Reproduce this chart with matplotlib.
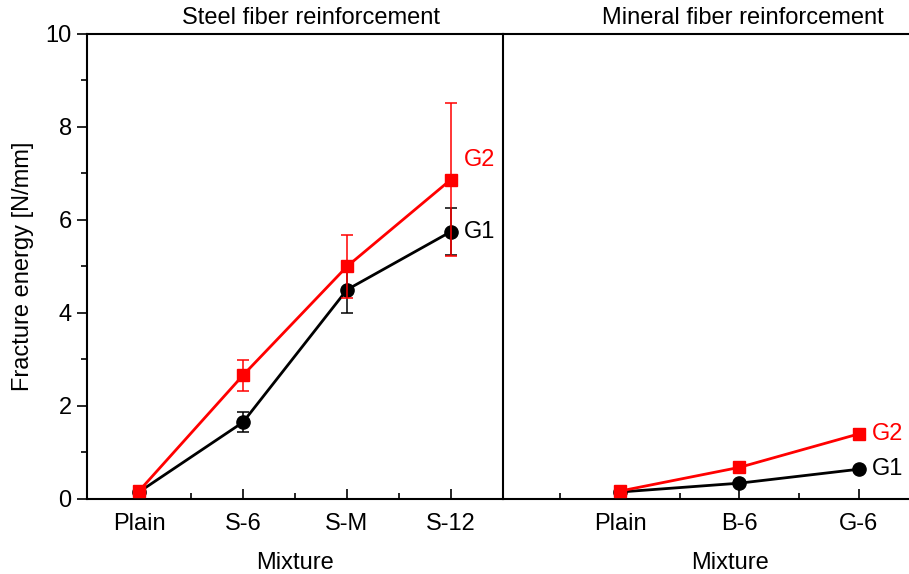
import matplotlib
matplotlib.use("Agg")
import matplotlib.pyplot as plt
from matplotlib.ticker import MultipleLocator, FixedLocator

plt.rcParams['font.family'] = ['Liberation Sans', 'DejaVu Sans']

# Steel fiber mixtures
steel_mix = ["Plain", "S-6", "S-M", "S-12"]
steel_g1 = [0.15, 1.65, 4.50, 5.75]
steel_g1_err = [0.03, 0.22, 0.50, 0.50]
steel_g2 = [0.17, 2.66, 5.00, 6.87]
steel_g2_err = [0.03, 0.33, 0.67, 1.65]

# Mineral fiber mixtures
mineral_mix = ["Plain", "B-6", "G-6"]
mineral_g1 = [0.15, 0.34, 0.64]
mineral_g1_err = [0.02, 0.03, 0.05]
mineral_g2 = [0.17, 0.68, 1.40]
mineral_g2_err = [0.02, 0.05, 0.10]

fig = plt.figure(figsize=(9.09, 5.74), dpi=100)
ax1 = fig.add_axes([0.0957, 0.1307, 0.4576, 0.8101])
ax2 = fig.add_axes([0.5534, 0.1307, 0.4466, 0.8101])

fs = 17
red = "#ff0000"

def draw(ax, mixes, g1, e1, g2, e2):
    x = list(range(len(mixes)))
    ax.errorbar(x, g1, yerr=e1, color="black", marker="o", markersize=9.5,
                lw=2.0, elinewidth=1.1, capsize=4, capthick=1.1, zorder=3)
    ax.errorbar(x, g2, yerr=e2, color=red, marker="s", markersize=8,
                lw=2.0, elinewidth=1.1, capsize=4, capthick=1.1, zorder=4)
    ax.set_xticks(x)
    ax.set_xticklabels(mixes, fontsize=fs)
    ax.xaxis.set_minor_locator(FixedLocator([i + 0.5 for i in range(-1, len(mixes))]))
    ax.tick_params(axis="x", which="major", direction="in", length=7, width=1.2, pad=10)
    ax.tick_params(axis="x", which="minor", direction="in", length=4, width=1.2)
    ax.set_ylim(0, 10)
    ax.set_xlabel("Mixture", fontsize=fs)
    for s in ax.spines.values():
        s.set_linewidth(1.5)

draw(ax1, steel_mix, steel_g1, steel_g1_err, steel_g2, steel_g2_err)
draw(ax2, mineral_mix, mineral_g1, mineral_g1_err, mineral_g2, mineral_g2_err)

ax1.set_xlim(-0.5, 3.5)
ax2.set_xlim(-0.98, 2.42)

ax1.yaxis.set_major_locator(MultipleLocator(2))
ax1.yaxis.set_minor_locator(MultipleLocator(1))
ax1.tick_params(axis="y", which="major", direction="out", length=7, width=1.2, labelsize=fs, pad=4)
ax1.tick_params(axis="y", which="minor", direction="out", length=4, width=1.2)
ax1.set_ylabel("Fracture energy [N/mm]", fontsize=fs, labelpad=8)
ax1.spines["right"].set_visible(False)

ax2.tick_params(axis="y", which="both", left=False, labelleft=False)
ax2.spines["right"].set_visible(False)

# Panel titles
ax1.text(1.65, 10.1, "Steel fiber reinforcement", fontsize=fs, ha="center", va="bottom")
ax2.text(1.03, 10.1, "Mineral fiber reinforcement", fontsize=fs, ha="center", va="bottom")

# Series labels
ax1.text(3.12, 7.3, "G2", color=red, fontsize=fs, ha="left", va="center")
ax1.text(3.12, steel_g1[-1], "G1", color="black", fontsize=fs, ha="left", va="center")
ax2.text(2.11, mineral_g2[-1], "G2", color=red, fontsize=fs, ha="left", va="center")
ax2.text(2.11, mineral_g1[-1], "G1", color="black", fontsize=fs, ha="left", va="center")

ax1.xaxis.set_label_coords(0.5, -0.115)
ax2.xaxis.set_label_coords(0.56, -0.115)

fig.savefig("out.png", dpi=100)
